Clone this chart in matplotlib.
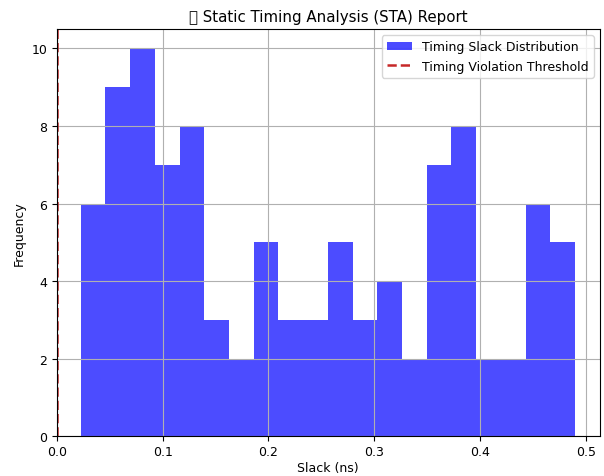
import matplotlib
matplotlib.use("Agg")
import matplotlib.pyplot as plt
import numpy as np

plt.rcParams['font.family'] = ['DejaVu Sans', 'Noto Sans', 'Noto Sans CJK SC']
plt.rcParams['font.size'] = 9

bin_start = 0.0226
bin_end = 0.4896
counts = [6, 9, 10, 7, 8, 3, 2, 5, 3, 3, 5, 3, 4, 2, 7, 8, 2, 2, 6, 5]
threshold = 0.0

edges = np.linspace(bin_start, bin_end, len(counts) + 1)
centers = (edges[:-1] + edges[1:]) / 2

fig, ax = plt.subplots(figsize=(6.04, 4.77), dpi=100)
ax.hist(centers, bins=edges, weights=counts, color='blue', alpha=0.7,
        label='Timing Slack Distribution')
ax.axvline(threshold, color='#c62828', linestyle='--', linewidth=1.8,
           label='Timing Violation Threshold')
ax.set_xlim(left=0)
ax.set_title('\U0001F4CA Static Timing Analysis (STA) Report', fontsize=10.8)
ax.set_xlabel('Slack (ns)', labelpad=2)
ax.set_ylabel('Frequency')
ax.tick_params(axis='x', pad=2.5)
ax.legend(loc='upper right')
ax.grid(True)
fig.subplots_adjust(left=0.094, right=0.993, top=0.937, bottom=0.083)
fig.savefig('out.png')
